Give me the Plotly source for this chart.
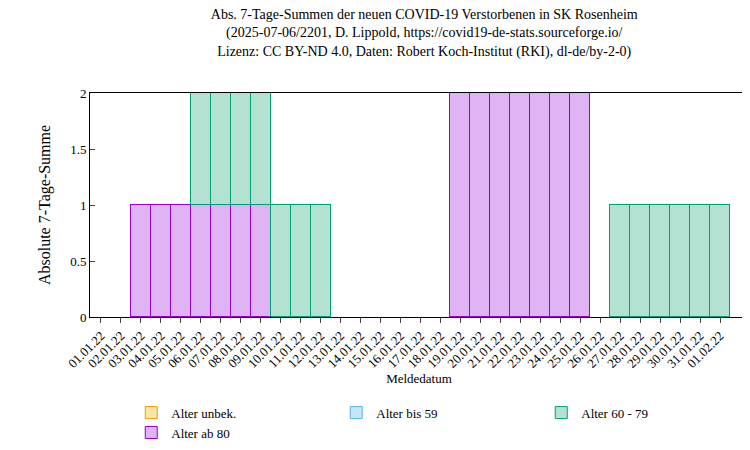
import plotly.graph_objects as go

dates = ["01.01.22", "02.01.22", "03.01.22", "04.01.22", "05.01.22", "06.01.22", "07.01.22",
         "08.01.22", "09.01.22", "10.01.22", "11.01.22", "12.01.22", "13.01.22", "14.01.22",
         "15.01.22", "16.01.22", "17.01.22", "18.01.22", "19.01.22", "20.01.22", "21.01.22",
         "22.01.22", "23.01.22", "24.01.22", "25.01.22", "26.01.22", "27.01.22", "28.01.22",
         "29.01.22", "30.01.22", "31.01.22", "01.02.22"]
ab80 = [0, 0, 1, 1, 1, 1, 1, 1, 1, 0, 0, 0, 0, 0, 0, 0, 0, 0, 2, 2, 2, 2, 2, 2, 2, 0, 0, 0, 0, 0, 0, 0]
a60_79 = [0, 0, 0, 0, 0, 1, 1, 1, 1, 1, 1, 1, 0, 0, 0, 0, 0, 0, 0, 0, 0, 0, 0, 0, 0, 0, 1, 1, 1, 1, 1, 1]
bis59 = [0] * 32
unbek = [0] * 32

fig = go.Figure()
series = [
    ("Alter ab 80", ab80, "#e0b4f4", "#9400d3"),
    ("Alter 60 - 79", a60_79, "#b3e2d3", "#009e73"),
    ("Alter bis 59", bis59, "#c6e6f8", "#56b4e9"),
    ("Alter unbek.", unbek, "#fde3a6", "#e69f00"),
]
for name, vals, fill, line in series:
    # zero values are left out so no empty bar outlines get drawn
    fig.add_trace(go.Bar(x=dates, y=[v if v else None for v in vals], name=name,
                         marker=dict(color=fill, line=dict(color=line, width=1))))

fig.update_layout(
    width=750, height=450, barmode="stack", bargap=0,
    plot_bgcolor="white", paper_bgcolor="white",
    font=dict(family="Liberation Serif", size=13, color="black"),
    title=dict(text="Abs. 7-Tage-Summen der neuen COVID-19 Verstorbenen in SK Rosenheim<br>"
                    "(2025-07-06/2201, D. Lippold, https://covid19-de-stats.sourceforge.io/<br>"
                    "Lizenz: CC BY-ND 4.0, Daten: Robert Koch-Institut (RKI), dl-de/by-2-0)",
               x=0.555, xanchor="center", y=0.975, yanchor="top", font=dict(size=14)),
    margin=dict(l=82, r=10, t=85, b=100),
    legend=dict(orientation="h", traceorder="reversed", x=0.53, xanchor="center",
                y=-0.36, yanchor="top", font=dict(size=13), entrywidth=160),
)
fig.update_xaxes(title=dict(text="Meldedatum", standoff=0, font=dict(size=13)), tickangle=-45,
                 showline=True, linecolor="black", mirror=True, ticks="outside",
                 tickfont=dict(size=13), range=[-0.55, 32.4])
fig.update_yaxes(title="Absolute 7-Tage-Summe", range=[0, 2], tickvals=[0, 0.5, 1, 1.5, 2],
                 ticktext=["0", "0.5", "1", "1.5", "2"], showline=True, linecolor="black",
                 mirror="ticks", ticks="inside", showgrid=False, zeroline=False)

fig.write_html("out.html")
